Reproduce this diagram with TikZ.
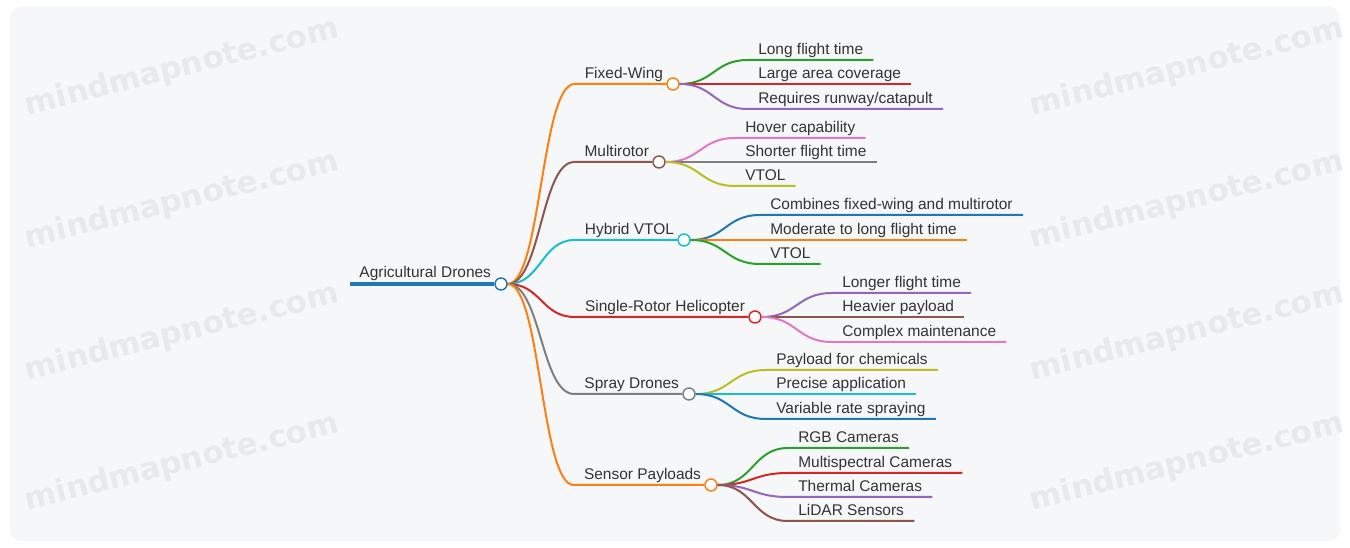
\documentclass[tikz,border=0pt]{standalone}
\usepackage{fontspec}
\setmainfont{Liberation Sans}
\newfontfamily\wmfont{DejaVu Sans}
\usetikzlibrary{positioning,calc}

\definecolor{cBlue}{HTML}{1F77B4}
\definecolor{cOrange}{HTML}{FF7F0E}
\definecolor{cGreen}{HTML}{2CA02C}
\definecolor{cRed}{HTML}{D62728}
\definecolor{cPurple}{HTML}{9467BD}
\definecolor{cBrown}{HTML}{8C564B}
\definecolor{cPink}{HTML}{E377C2}
\definecolor{cGray}{HTML}{7F7F7F}
\definecolor{cOlive}{HTML}{BCBD22}
\definecolor{cCyan}{HTML}{17BECF}
\definecolor{txtgray}{HTML}{333333}
\definecolor{paper}{HTML}{F6F7F9}
\definecolor{wmgray}{HTML}{E8E9EC}

\begin{document}
\begin{tikzpicture}[
    x=0.75pt, y=-0.75pt,
    topic/.style={inner xsep=0pt, inner ysep=3.75pt, text depth=0pt,
        text=txtgray, font=\fontsize{11.6}{13}\selectfont},
    leaf/.style={topic, inner xsep=7.5pt, anchor=south west},
    dot/.style={circle, draw, fill=white, line width=1.1pt,
        minimum size=9pt, inner sep=0pt},
    branch/.style={line width=1.5pt},
    link/.style={branch, to path={let \p1=(\tikztostart), \p2=(\tikztotarget) in
        .. controls ({(\x1+\x2)/2},\y1) and ({(\x1+\x2)/2},\y2) .. (\tikztotarget)}},
    watermark/.style={rotate=14, text=wmgray,
        font=\wmfont\bfseries\fontsize{23}{23}\selectfont}]
    \useasboundingbox (0,0) rectangle (1350,548);
    % BACKGROUND
    \fill[paper, rounded corners=8pt] (10,7) rectangle (1340,541);
    \node[watermark] (wm1) at (182,68) {mindmapnote.com};
    \node[watermark] (wm2) at (182,201) {mindmapnote.com};
    \node[watermark] (wm3) at (182,333) {mindmapnote.com};
    \node[watermark] (wm4) at (182,463) {mindmapnote.com};
    \node[watermark] (wm5) at (1187,68) {mindmapnote.com};
    \node[watermark] (wm6) at (1187,201) {mindmapnote.com};
    \node[watermark] (wm7) at (1187,333) {mindmapnote.com};
    \node[watermark] (wm8) at (1187,463) {mindmapnote.com};

    % NODES
    % root
    \node[dot, draw=cBlue] (root) at (501,284) {};
    \node[topic, inner ysep=4.5pt, above left=0pt and 2.25pt of root.west] (rootT) {Agricultural Drones};
    % first level
    \node[dot, draw=cOrange] (fw) at (673,84) {};
    \node[topic, above left=0pt and 2.25pt of fw.west] (fwT) {Fixed-Wing};
    \node[dot, draw=cBrown] (mr) at (659,162) {};
    \node[topic, above left=0pt and 2.25pt of mr.west] (mrT) {Multirotor};
    \node[dot, draw=cCyan] (hv) at (684,240) {};
    \node[topic, above left=0pt and 2.25pt of hv.west] (hvT) {Hybrid VTOL};
    \node[dot, draw=cRed] (sr) at (755,317) {};
    \node[topic, above left=0pt and 2.25pt of sr.west] (srT) {Single-Rotor Helicopter};
    \node[dot, draw=cGray] (sd) at (689,394) {};
    \node[topic, above left=0pt and 2.25pt of sd.west] (sdT) {Spray Drones};
    \node[dot, draw=cOrange] (sp) at (711,485) {};
    \node[topic, above left=0pt and 2.25pt of sp.west] (spT) {Sensor Payloads};
    % leaves of Fixed-Wing
    \node[leaf] (fw1) at (748,60) {Long flight time};
    \node[leaf] (fw2) at (748,84) {Large area coverage};
    \node[leaf] (fw3) at (748,109) {Requires runway/catapult};
    % leaves of Multirotor
    \node[leaf] (mr1) at (735,138) {Hover capability};
    \node[leaf] (mr2) at (735,162) {Shorter flight time};
    \node[leaf] (mr3) at (735,186) {VTOL};
    % leaves of Hybrid VTOL
    \node[leaf] (hv1) at (760,215) {Combines fixed-wing and multirotor};
    \node[leaf] (hv2) at (760,240) {Moderate to long flight time};
    \node[leaf] (hv3) at (760,264) {VTOL};
    % leaves of Single-Rotor Helicopter
    \node[leaf] (sr1) at (832,293) {Longer flight time};
    \node[leaf] (sr2) at (832,317) {Heavier payload};
    \node[leaf] (sr3) at (832,342) {Complex maintenance};
    % leaves of Spray Drones
    \node[leaf] (sd1) at (766,370) {Payload for chemicals};
    \node[leaf] (sd2) at (766,394) {Precise application};
    \node[leaf] (sd3) at (766,419) {Variable rate spraying};
    % leaves of Sensor Payloads
    \node[leaf] (sp1) at (788,448) {RGB Cameras};
    \node[leaf] (sp2) at (788,473) {Multispectral Cameras};
    \node[leaf] (sp3) at (788,497) {Thermal Cameras};
    \node[leaf] (sp4) at (788,521) {LiDAR Sensors};

    % CONNECTORS
    \draw[cBlue, line width=3pt] ([xshift=-6.75pt]rootT.south west) -- (root.west);
    \draw[link, cOrange] (root.east) to ([xshift=-7.5pt]fwT.south west) -- (fw.west);
    \draw[link, cBrown] (root.east) to ([xshift=-7.5pt]mrT.south west) -- (mr.west);
    \draw[link, cCyan] (root.east) to ([xshift=-7.5pt]hvT.south west) -- (hv.west);
    \draw[link, cRed] (root.east) to ([xshift=-7.5pt]srT.south west) -- (sr.west);
    \draw[link, cGray] (root.east) to ([xshift=-7.5pt]sdT.south west) -- (sd.west);
    \draw[link, cOrange] (root.east) to ([xshift=-7.5pt]spT.south west) -- (sp.west);
    % to the leaves
    \draw[link, cGreen] (fw.east) to (fw1.south west) -- (fw1.south east);
    \draw[link, cRed] (fw.east) to (fw2.south west) -- (fw2.south east);
    \draw[link, cPurple] (fw.east) to (fw3.south west) -- (fw3.south east);
    \draw[link, cPink] (mr.east) to (mr1.south west) -- (mr1.south east);
    \draw[link, cGray] (mr.east) to (mr2.south west) -- (mr2.south east);
    \draw[link, cOlive] (mr.east) to (mr3.south west) -- (mr3.south east);
    \draw[link, cBlue] (hv.east) to (hv1.south west) -- (hv1.south east);
    \draw[link, cOrange] (hv.east) to (hv2.south west) -- (hv2.south east);
    \draw[link, cGreen] (hv.east) to (hv3.south west) -- (hv3.south east);
    \draw[link, cPurple] (sr.east) to (sr1.south west) -- (sr1.south east);
    \draw[link, cBrown] (sr.east) to (sr2.south west) -- (sr2.south east);
    \draw[link, cPink] (sr.east) to (sr3.south west) -- (sr3.south east);
    \draw[link, cOlive] (sd.east) to (sd1.south west) -- (sd1.south east);
    \draw[link, cCyan] (sd.east) to (sd2.south west) -- (sd2.south east);
    \draw[link, cBlue] (sd.east) to (sd3.south west) -- (sd3.south east);
    \draw[link, cGreen] (sp.east) to (sp1.south west) -- (sp1.south east);
    \draw[link, cRed] (sp.east) to (sp2.south west) -- (sp2.south east);
    \draw[link, cPurple] (sp.east) to (sp3.south west) -- (sp3.south east);
    \draw[link, cBrown] (sp.east) to (sp4.south west) -- (sp4.south east);
\end{tikzpicture}
\end{document}
